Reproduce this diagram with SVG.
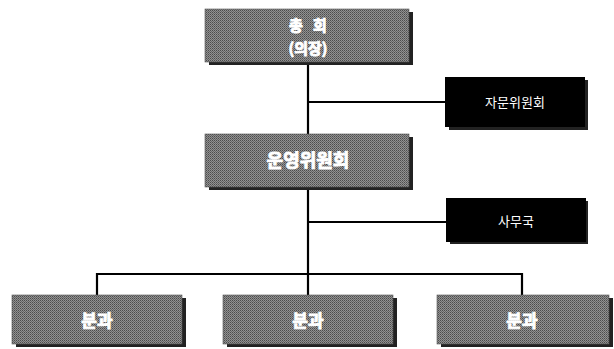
<svg xmlns="http://www.w3.org/2000/svg" width="614" height="349" viewBox="0 0 614 349">
<defs>
<pattern id="dither" width="2" height="2" patternUnits="userSpaceOnUse">
<rect width="2" height="2" fill="#929292"/>
<rect x="0" y="0" width="1" height="1" fill="#4c4c4c"/>
<rect x="1" y="1" width="1" height="1" fill="#666"/>
</pattern>
<style>
.shadow{fill:#222}
.gbox{fill:url(#dither);stroke:#555;stroke-width:0.6}
.bbox{fill:#000}
.gt{font-family:"Noto Sans CJK KR","Noto Sans",sans-serif;font-weight:bold;fill:#fff;stroke:#fff;stroke-width:0.9;text-anchor:middle}
.bt{font-family:"Noto Sans CJK KR","Noto Sans",sans-serif;fill:#fff;font-size:13px;text-anchor:middle}
.ln{stroke:#000;stroke-width:2.2;fill:none}
</style>
</defs>
<rect width="614" height="349" fill="#fff"/>
<g id="connectors">
<line class="ln" x1="308" y1="62" x2="308" y2="274"/>
<line class="ln" x1="308" y1="102" x2="446" y2="102"/>
<line class="ln" x1="308" y1="222" x2="447" y2="222"/>
<polyline class="ln" points="97,296 97,274 522,274 522,296"/>
<line class="ln" x1="308" y1="274" x2="308" y2="296"/>
</g>
<g id="n-chonghoe">
<rect class="shadow" x="209" y="12" width="204" height="53"/>
<rect class="gbox" x="205" y="9" width="204" height="53"/>
<text class="gt" x="308" y="31" font-size="15">총&#160;&#160;&#160;회</text>
<text class="gt" x="308" y="54" font-size="15">(의장)</text>
</g>
<g id="n-jamun">
<rect class="shadow" x="449" y="80" width="139" height="50"/>
<rect class="bbox" x="445" y="77" width="140" height="50"/>
<text class="bt" x="515" y="107">자문위원회</text>
</g>
<g id="n-unyeong">
<rect class="shadow" x="209" y="137" width="204" height="53"/>
<rect class="gbox" x="205" y="134" width="204" height="53"/>
<text class="gt" x="308" y="167" font-size="18">운영위원회</text>
</g>
<g id="n-samuguk">
<rect class="shadow" x="450" y="201" width="138" height="43"/>
<rect class="bbox" x="446" y="198" width="140" height="44"/>
<text class="bt" x="516" y="226">사무국</text>
</g>
<g id="n-bungwa1">
<rect class="shadow" x="16" y="298" width="170" height="49"/>
<rect class="gbox" x="12" y="295" width="170" height="49"/>
<text class="gt" x="97" y="327" font-size="17">분과</text>
</g>
<g id="n-bungwa2">
<rect class="shadow" x="227" y="298" width="170" height="49"/>
<rect class="gbox" x="223" y="295" width="170" height="49"/>
<text class="gt" x="308" y="327" font-size="17">분과</text>
</g>
<g id="n-bungwa3">
<rect class="shadow" x="441" y="298" width="172" height="49"/>
<rect class="gbox" x="437" y="295" width="172" height="49"/>
<text class="gt" x="522" y="327" font-size="17">분과</text>
</g>
</svg>
